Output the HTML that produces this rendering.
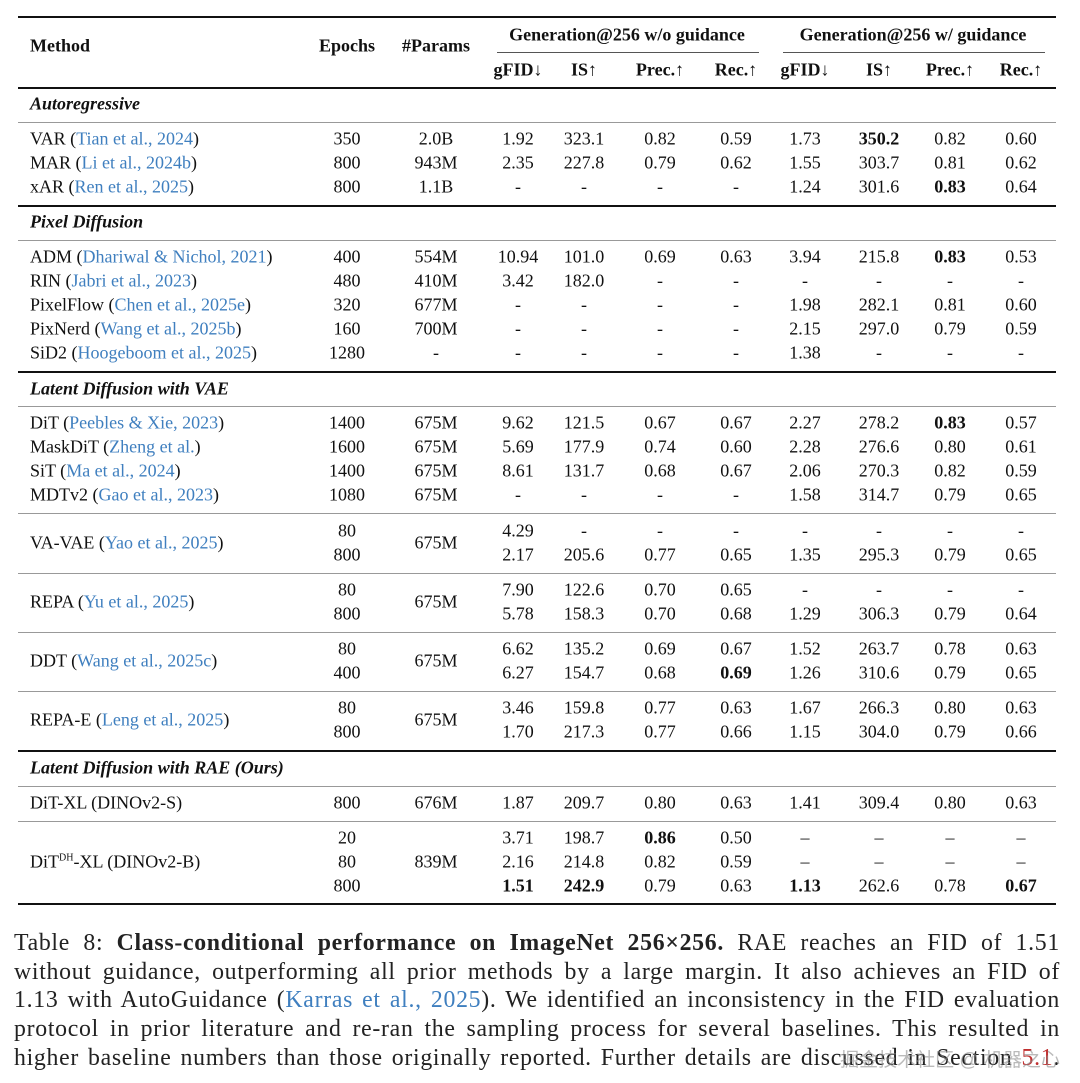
<!DOCTYPE html>
<html><head><meta charset="utf-8"><style>
html,body{margin:0;padding:0;background:#fff;}
body{width:1080px;height:1083px;position:relative;overflow:hidden;font-family:"Liberation Serif",serif;color:#111;}
.r{position:absolute;left:0;height:0;width:1080px;font-size:18px;}
.r span{position:absolute;white-space:nowrap;transform:translate(-50%,-50%);top:0;}
.r span.m{transform:translate(0,-50%);left:30px;}
.h{font-weight:bold;}
.i{font-style:italic;font-weight:bold;}
a{color:#3f7fbf;text-decoration:none;}
b{font-weight:bold;}
.c1{left:347px}.c2{left:436px}.c3{left:518px}.c4{left:584px}.c5{left:660px}.c6{left:736px}.c7{left:805px}.c8{left:879px}.c9{left:950px}.c10{left:1021px}
.ln{position:absolute;left:18px;width:1038px;height:1px;background:#999;}
.tk{position:absolute;left:18px;width:1038px;height:2px;background:#111;}
.cap{position:absolute;left:14px;top:929px;width:1046px;font-size:23.8px;line-height:28.7px;color:#222;letter-spacing:0.7px;}
.cap div{white-space:nowrap;text-align:justify;text-align-last:justify;height:28.7px;}
.wm{position:absolute;right:20px;top:1045px;font-family:"Liberation Sans","Noto Sans CJK SC",sans-serif;font-size:19px;color:rgba(140,140,140,0.6);}
</style></head><body>
<div class="tk" style="top:16px"></div>
<div class="r h" style="top:46px"><span class="m">Method</span><span class="c1">Epochs</span><span class="c2">#Params</span></div>
<div class="r h" style="top:35px"><span style="left:627px">Generation@256 w/o guidance</span><span style="left:913px">Generation@256 w/ guidance</span></div>
<div style="position:absolute;top:52px;left:497px;width:262px;height:1px;background:#555"></div>
<div style="position:absolute;top:52px;left:783px;width:262px;height:1px;background:#555"></div>
<div class="r h" style="top:70px"><span class="c3">gFID↓</span><span class="c4">IS↑</span><span class="c5">Prec.↑</span><span class="c6">Rec.↑</span><span class="c7">gFID↓</span><span class="c8">IS↑</span><span class="c9">Prec.↑</span><span class="c10">Rec.↑</span></div>
<div class="tk" style="top:87px;height:1.5px"></div>

<div class="r" style="top:104px"><span class="m i">Autoregressive</span></div>
<div class="ln" style="top:122px"></div>
<div class="r" style="top:139px"><span class="m">VAR (<a>Tian et al., 2024</a>)</span><span class="c1">350</span><span class="c2">2.0B</span><span class="c3">1.92</span><span class="c4">323.1</span><span class="c5">0.82</span><span class="c6">0.59</span><span class="c7">1.73</span><span class="c8"><b>350.2</b></span><span class="c9">0.82</span><span class="c10">0.60</span></div>
<div class="r" style="top:163px"><span class="m">MAR (<a>Li et al., 2024b</a>)</span><span class="c1">800</span><span class="c2">943M</span><span class="c3">2.35</span><span class="c4">227.8</span><span class="c5">0.79</span><span class="c6">0.62</span><span class="c7">1.55</span><span class="c8">303.7</span><span class="c9">0.81</span><span class="c10">0.62</span></div>
<div class="r" style="top:187px"><span class="m">xAR (<a>Ren et al., 2025</a>)</span><span class="c1">800</span><span class="c2">1.1B</span><span class="c3">-</span><span class="c4">-</span><span class="c5">-</span><span class="c6">-</span><span class="c7">1.24</span><span class="c8">301.6</span><span class="c9"><b>0.83</b></span><span class="c10">0.64</span></div>
<div class="tk" style="top:205px;height:1.5px"></div>

<div class="r" style="top:222px"><span class="m i">Pixel Diffusion</span></div>
<div class="ln" style="top:240px"></div>
<div class="r" style="top:257px"><span class="m">ADM (<a>Dhariwal &amp; Nichol, 2021</a>)</span><span class="c1">400</span><span class="c2">554M</span><span class="c3">10.94</span><span class="c4">101.0</span><span class="c5">0.69</span><span class="c6">0.63</span><span class="c7">3.94</span><span class="c8">215.8</span><span class="c9"><b>0.83</b></span><span class="c10">0.53</span></div>
<div class="r" style="top:281px"><span class="m">RIN (<a>Jabri et al., 2023</a>)</span><span class="c1">480</span><span class="c2">410M</span><span class="c3">3.42</span><span class="c4">182.0</span><span class="c5">-</span><span class="c6">-</span><span class="c7">-</span><span class="c8">-</span><span class="c9">-</span><span class="c10">-</span></div>
<div class="r" style="top:305px"><span class="m">PixelFlow (<a>Chen et al., 2025e</a>)</span><span class="c1">320</span><span class="c2">677M</span><span class="c3">-</span><span class="c4">-</span><span class="c5">-</span><span class="c6">-</span><span class="c7">1.98</span><span class="c8">282.1</span><span class="c9">0.81</span><span class="c10">0.60</span></div>
<div class="r" style="top:329px"><span class="m">PixNerd (<a>Wang et al., 2025b</a>)</span><span class="c1">160</span><span class="c2">700M</span><span class="c3">-</span><span class="c4">-</span><span class="c5">-</span><span class="c6">-</span><span class="c7">2.15</span><span class="c8">297.0</span><span class="c9">0.79</span><span class="c10">0.59</span></div>
<div class="r" style="top:353px"><span class="m">SiD2 (<a>Hoogeboom et al., 2025</a>)</span><span class="c1">1280</span><span class="c2">-</span><span class="c3">-</span><span class="c4">-</span><span class="c5">-</span><span class="c6">-</span><span class="c7">1.38</span><span class="c8">-</span><span class="c9">-</span><span class="c10">-</span></div>
<div class="tk" style="top:371px;height:1.5px"></div>

<div class="r" style="top:389px"><span class="m i">Latent Diffusion with VAE</span></div>
<div class="ln" style="top:406px"></div>
<div class="r" style="top:423px"><span class="m">DiT (<a>Peebles &amp; Xie, 2023</a>)</span><span class="c1">1400</span><span class="c2">675M</span><span class="c3">9.62</span><span class="c4">121.5</span><span class="c5">0.67</span><span class="c6">0.67</span><span class="c7">2.27</span><span class="c8">278.2</span><span class="c9"><b>0.83</b></span><span class="c10">0.57</span></div>
<div class="r" style="top:447px"><span class="m">MaskDiT (<a>Zheng et al.</a>)</span><span class="c1">1600</span><span class="c2">675M</span><span class="c3">5.69</span><span class="c4">177.9</span><span class="c5">0.74</span><span class="c6">0.60</span><span class="c7">2.28</span><span class="c8">276.6</span><span class="c9">0.80</span><span class="c10">0.61</span></div>
<div class="r" style="top:471px"><span class="m">SiT (<a>Ma et al., 2024</a>)</span><span class="c1">1400</span><span class="c2">675M</span><span class="c3">8.61</span><span class="c4">131.7</span><span class="c5">0.68</span><span class="c6">0.67</span><span class="c7">2.06</span><span class="c8">270.3</span><span class="c9">0.82</span><span class="c10">0.59</span></div>
<div class="r" style="top:495px"><span class="m">MDTv2 (<a>Gao et al., 2023</a>)</span><span class="c1">1080</span><span class="c2">675M</span><span class="c3">-</span><span class="c4">-</span><span class="c5">-</span><span class="c6">-</span><span class="c7">1.58</span><span class="c8">314.7</span><span class="c9">0.79</span><span class="c10">0.65</span></div>
<div class="ln" style="top:513px"></div>

<div class="r" style="top:543px"><span class="m">VA-VAE (<a>Yao et al., 2025</a>)</span><span class="c2">675M</span></div>
<div class="r" style="top:531px"><span class="c1">80</span><span class="c3">4.29</span><span class="c4">-</span><span class="c5">-</span><span class="c6">-</span><span class="c7">-</span><span class="c8">-</span><span class="c9">-</span><span class="c10">-</span></div>
<div class="r" style="top:555px"><span class="c1">800</span><span class="c3">2.17</span><span class="c4">205.6</span><span class="c5">0.77</span><span class="c6">0.65</span><span class="c7">1.35</span><span class="c8">295.3</span><span class="c9">0.79</span><span class="c10">0.65</span></div>
<div class="ln" style="top:573px"></div>

<div class="r" style="top:602px"><span class="m">REPA (<a>Yu et al., 2025</a>)</span><span class="c2">675M</span></div>
<div class="r" style="top:590px"><span class="c1">80</span><span class="c3">7.90</span><span class="c4">122.6</span><span class="c5">0.70</span><span class="c6">0.65</span><span class="c7">-</span><span class="c8">-</span><span class="c9">-</span><span class="c10">-</span></div>
<div class="r" style="top:614px"><span class="c1">800</span><span class="c3">5.78</span><span class="c4">158.3</span><span class="c5">0.70</span><span class="c6">0.68</span><span class="c7">1.29</span><span class="c8">306.3</span><span class="c9">0.79</span><span class="c10">0.64</span></div>
<div class="ln" style="top:632px"></div>

<div class="r" style="top:661px"><span class="m">DDT (<a>Wang et al., 2025c</a>)</span><span class="c2">675M</span></div>
<div class="r" style="top:649px"><span class="c1">80</span><span class="c3">6.62</span><span class="c4">135.2</span><span class="c5">0.69</span><span class="c6">0.67</span><span class="c7">1.52</span><span class="c8">263.7</span><span class="c9">0.78</span><span class="c10">0.63</span></div>
<div class="r" style="top:673px"><span class="c1">400</span><span class="c3">6.27</span><span class="c4">154.7</span><span class="c5">0.68</span><span class="c6"><b>0.69</b></span><span class="c7">1.26</span><span class="c8">310.6</span><span class="c9">0.79</span><span class="c10">0.65</span></div>
<div class="ln" style="top:691px"></div>

<div class="r" style="top:720px"><span class="m">REPA-E (<a>Leng et al., 2025</a>)</span><span class="c2">675M</span></div>
<div class="r" style="top:708px"><span class="c1">80</span><span class="c3">3.46</span><span class="c4">159.8</span><span class="c5">0.77</span><span class="c6">0.63</span><span class="c7">1.67</span><span class="c8">266.3</span><span class="c9">0.80</span><span class="c10">0.63</span></div>
<div class="r" style="top:732px"><span class="c1">800</span><span class="c3">1.70</span><span class="c4">217.3</span><span class="c5">0.77</span><span class="c6">0.66</span><span class="c7">1.15</span><span class="c8">304.0</span><span class="c9">0.79</span><span class="c10">0.66</span></div>
<div class="tk" style="top:750px;height:1.5px"></div>

<div class="r" style="top:768px"><span class="m i">Latent Diffusion with RAE (Ours)</span></div>
<div class="ln" style="top:786px"></div>
<div class="r" style="top:803px"><span class="m">DiT-XL (DINOv2-S)</span><span class="c1">800</span><span class="c2">676M</span><span class="c3">1.87</span><span class="c4">209.7</span><span class="c5">0.80</span><span class="c6">0.63</span><span class="c7">1.41</span><span class="c8">309.4</span><span class="c9">0.80</span><span class="c10">0.63</span></div>
<div class="ln" style="top:821px"></div>
<div class="r" style="top:862px"><span class="m">DiT<sup style="font-size:10px;vertical-align:7px">DH</sup>-XL (DINOv2-B)</span><span class="c2">839M</span></div>
<div class="r" style="top:838px"><span class="c1">20</span><span class="c3">3.71</span><span class="c4">198.7</span><span class="c5"><b>0.86</b></span><span class="c6">0.50</span><span class="c7">–</span><span class="c8">–</span><span class="c9">–</span><span class="c10">–</span></div>
<div class="r" style="top:862px"><span class="c1">80</span><span class="c3">2.16</span><span class="c4">214.8</span><span class="c5">0.82</span><span class="c6">0.59</span><span class="c7">–</span><span class="c8">–</span><span class="c9">–</span><span class="c10">–</span></div>
<div class="r" style="top:886px"><span class="c1">800</span><span class="c3"><b>1.51</b></span><span class="c4"><b>242.9</b></span><span class="c5">0.79</span><span class="c6">0.63</span><span class="c7"><b>1.13</b></span><span class="c8">262.6</span><span class="c9">0.78</span><span class="c10"><b>0.67</b></span></div>
<div class="tk" style="top:903px"></div>

<div class="cap">
<div>Table 8: <b>Class-conditional performance on ImageNet 256×256.</b> RAE reaches an FID of 1.51</div>
<div>without guidance, outperforming all prior methods by a large margin. It also achieves an FID of</div>
<div>1.13 with AutoGuidance (<a>Karras et al., 2025</a>). We identified an inconsistency in the FID evaluation</div>
<div>protocol in prior literature and re-ran the sampling process for several baselines. This resulted in</div>
<div>higher baseline numbers than those originally reported. Further details are discussed in Section <a style="color:#c03030">5.1</a>.</div>
</div>
<div class="wm">掘金技术社区 @ 机器之心</div>
</body></html>
